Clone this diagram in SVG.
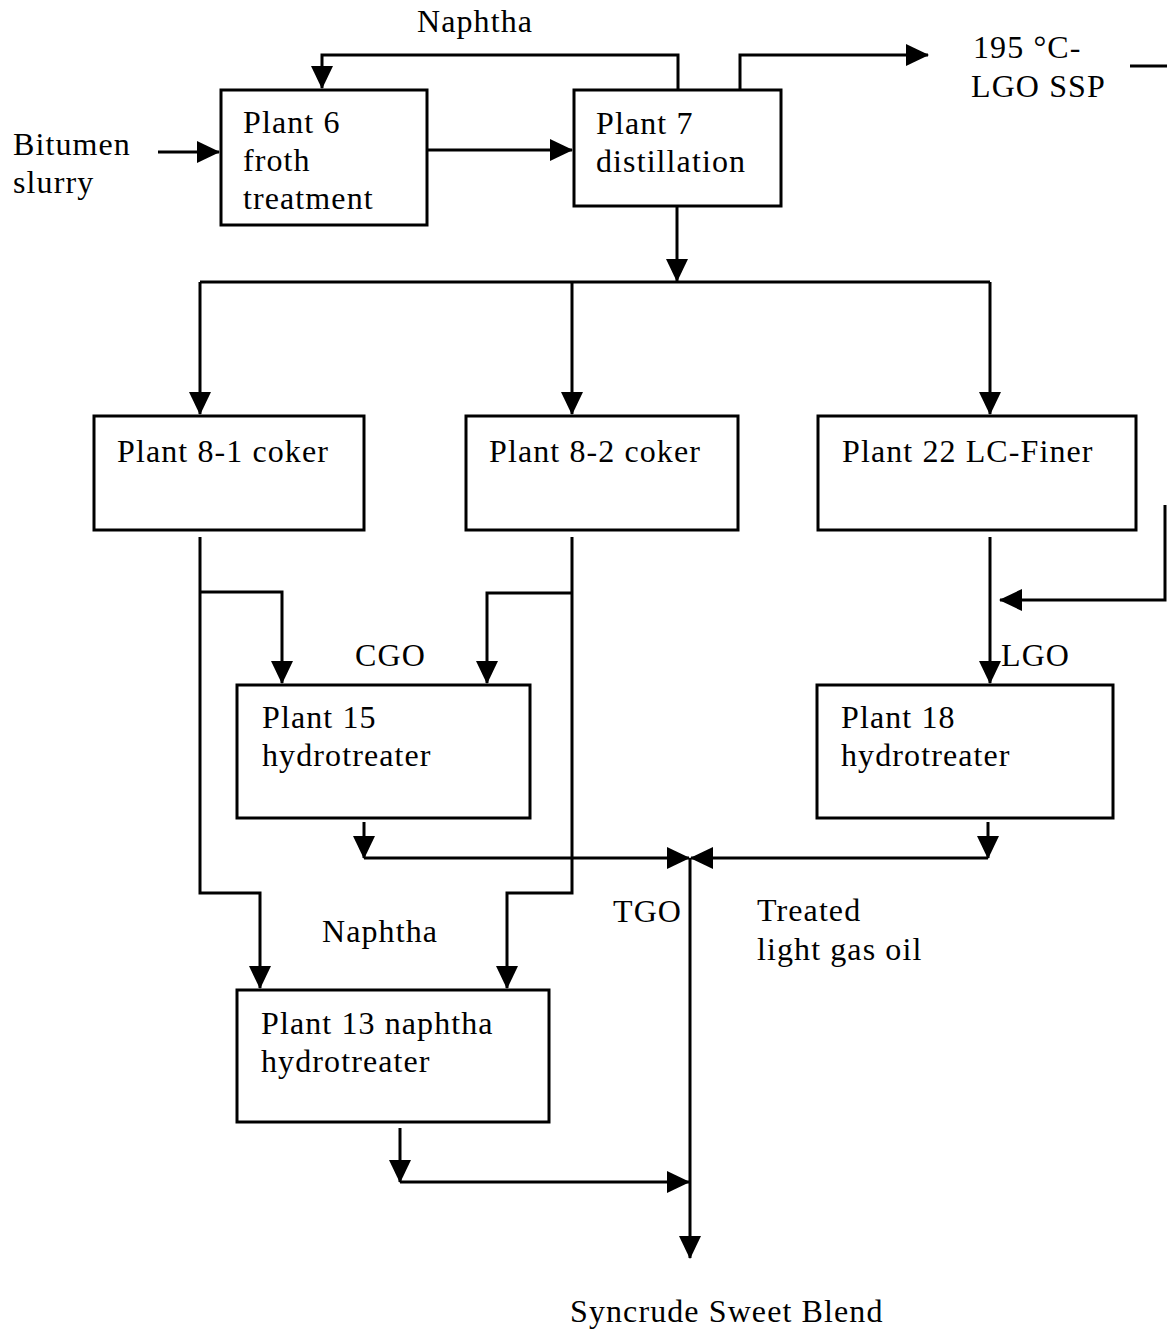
<svg xmlns="http://www.w3.org/2000/svg" width="1167" height="1332" viewBox="0 0 1167 1332">
<style>
.box{fill:#fff;stroke:#000;stroke-width:3}
.ln{fill:none;stroke:#000;stroke-width:3}
.t{font-family:"Liberation Serif","Times New Roman",serif;font-size:32px;letter-spacing:1.1px;fill:#000}
</style>
<defs>
<marker id="ar" markerUnits="userSpaceOnUse" markerWidth="24" markerHeight="24" viewBox="0 0 24 24" refX="22" refY="12" orient="auto">
<path d="M0,1 L23,12 L0,23 Z" fill="#000"/>
</marker>
</defs>
<rect width="1167" height="1332" fill="#fff"/>
<g id="connectors">
<path class="ln" d="M678,90 V55 H322 V88" marker-end="url(#ar)"/>
<path class="ln" d="M740,90 V55 H928" marker-end="url(#ar)"/>
<path class="ln" d="M1130,66 H1167"/>
<path class="ln" d="M1165,505 V600 H1000" stroke-width="2" marker-end="url(#ar)"/>
<path class="ln" d="M158,152 H219" marker-end="url(#ar)"/>
<path class="ln" d="M427,150 H572" marker-end="url(#ar)"/>
<path class="ln" d="M677,206 V281" marker-end="url(#ar)"/>
<path class="ln" d="M200,282 H990"/>
<path class="ln" d="M200,282 V414" marker-end="url(#ar)"/>
<path class="ln" d="M572,282 V414" marker-end="url(#ar)"/>
<path class="ln" d="M990,282 V414" marker-end="url(#ar)"/>
<path class="ln" d="M200,537 V893 H260 V988" marker-end="url(#ar)"/>
<path class="ln" d="M200,592 H282 V683" marker-end="url(#ar)"/>
<path class="ln" d="M572,537 V893 H507 V988" marker-end="url(#ar)"/>
<path class="ln" d="M572,593 H487 V683" marker-end="url(#ar)"/>
<path class="ln" d="M990,537 V683" marker-end="url(#ar)"/>
<path class="ln" d="M364,822 V858" marker-end="url(#ar)"/>
<path class="ln" d="M364,858 H689" marker-end="url(#ar)"/>
<path class="ln" d="M988,822 V858" marker-end="url(#ar)"/>
<path class="ln" d="M988,858 H691" marker-end="url(#ar)"/>
<path class="ln" d="M690,858 V1258" marker-end="url(#ar)"/>
<path class="ln" d="M400,1128 V1182" marker-end="url(#ar)"/>
<path class="ln" d="M400,1182 H689" marker-end="url(#ar)"/>
</g>
<g id="plant6"><rect class="box" x="221" y="90" width="206" height="135"/>
<text class="t" x="243" y="133">Plant 6</text><text class="t" x="243" y="171">froth</text><text class="t" x="243" y="209">treatment</text></g>
<g id="plant7"><rect class="box" x="574" y="90" width="207" height="116"/>
<text class="t" x="596" y="134">Plant 7</text><text class="t" x="596" y="172">distillation</text></g>
<g id="plant8-1"><rect class="box" x="94" y="416" width="270" height="114"/>
<text class="t" x="117" y="462">Plant 8-1 coker</text></g>
<g id="plant8-2"><rect class="box" x="466" y="416" width="272" height="114"/>
<text class="t" x="489" y="462">Plant 8-2 coker</text></g>
<g id="plant22"><rect class="box" x="818" y="416" width="318" height="114"/>
<text class="t" x="842" y="462">Plant 22 LC-Finer</text></g>
<g id="plant15"><rect class="box" x="237" y="685" width="293" height="133"/>
<text class="t" x="262" y="728">Plant 15</text><text class="t" x="262" y="766">hydrotreater</text></g>
<g id="plant18"><rect class="box" x="817" y="685" width="296" height="133"/>
<text class="t" x="841" y="728">Plant 18</text><text class="t" x="841" y="766">hydrotreater</text></g>
<g id="plant13"><rect class="box" x="237" y="990" width="312" height="132"/>
<text class="t" x="261" y="1034">Plant 13 naphtha</text><text class="t" x="261" y="1072">hydrotreater</text></g>
<g id="labels">
<text class="t" x="417" y="32">Naphtha</text>
<text class="t" x="973" y="58">195 °C-</text>
<text class="t" x="971" y="97">LGO SSP</text>
<text class="t" x="13" y="155">Bitumen</text>
<text class="t" x="13" y="193">slurry</text>
<text class="t" x="355" y="666">CGO</text>
<text class="t" x="1001" y="666">LGO</text>
<text class="t" x="613" y="922">TGO</text>
<text class="t" x="757" y="921">Treated</text>
<text class="t" x="757" y="960">light gas oil</text>
<text class="t" x="322" y="942">Naphtha</text>
<text class="t" x="570" y="1322">Syncrude Sweet Blend</text>
</g>
</svg>
